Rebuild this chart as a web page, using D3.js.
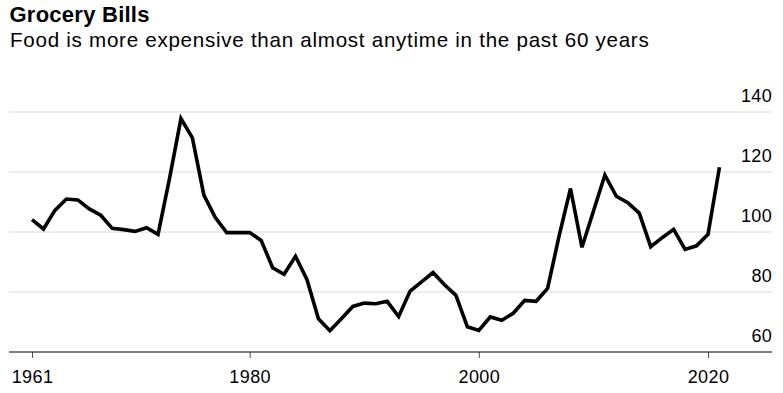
<!DOCTYPE html>
<html>
<head>
<meta charset="utf-8">
<script src="https://cdn.jsdelivr.net/npm/d3@7"></script>
<style>
  html, body { margin: 0; padding: 0; background: #fff; }
  svg { display: block; font-family: "Liberation Sans", Arial, Helvetica, sans-serif; }
</style>
</head>
<body>
<svg id="chart" width="783" height="393"></svg>
<script>
const title = "Grocery Bills";
const subtitle = "Food is more expensive than almost anytime in the past 60 years";

const years = d3.range(1961, 2022);
const values = [
  104.1, 101.0, 107.2, 111.0, 110.7, 107.7, 105.6, 101.2, 100.8, 100.2,
  101.4, 99.2, 117.8, 137.8, 131.4, 112.3, 104.8, 99.8, 99.8, 99.8,
  97.2, 88.1, 85.9, 91.9, 84.1, 71.1, 67.1, 71.1, 75.2, 76.3,
  76.1, 76.9, 71.8, 80.3, 83.4, 86.5, 82.4, 78.9, 68.4, 67.2,
  71.7, 70.6, 72.9, 77.2, 76.9, 81.2, 98.6, 114.5, 94.9, 106.9,
  119.0, 111.9, 109.8, 106.3, 95.1, 98.1, 100.9, 94.2, 95.4, 99.2,
  121.6
];
const yTicks = [60, 80, 100, 120, 140];
const xTicks = [1961, 1980, 2000, 2020];

const svg = d3.select("#chart");

const x = d3.scaleLinear().domain([1961, 2020]).range([32, 708]);
const y = d3.scaleLinear().domain([60, 140]).range([352, 112]);
const left = 9, right = 772;

svg.append("text")
  .attr("x", 9.5).attr("y", 22)
  .attr("font-size", 22).attr("font-weight", "bold")
  .attr("letter-spacing", 0.25)
  .attr("fill", "#000")
  .text(title);

svg.append("text")
  .attr("x", 10).attr("y", 47)
  .attr("font-size", 20.6)
  .attr("letter-spacing", 0.72)
  .attr("fill", "#000")
  .text(subtitle);

// gridlines
const grid = svg.append("g");
grid.selectAll("line")
  .data(yTicks.filter(t => t > 60))
  .join("line")
  .attr("x1", left).attr("x2", right)
  .attr("y1", d => y(d)).attr("y2", d => y(d))
  .attr("stroke", "#dcdcdc").attr("stroke-width", 1.2);

// y labels (right, above gridlines)
svg.append("g").selectAll("text")
  .data(yTicks)
  .join("text")
  .attr("x", right).attr("y", d => y(d) - 10.5)
  .attr("text-anchor", "end")
  .attr("font-size", 18)
  .attr("letter-spacing", 0.3)
  .attr("fill", "#000")
  .text(d => d);

// x axis
const xAxis = svg.append("g")
  .attr("transform", `translate(0,${y(60)})`)
  .call(d3.axisBottom(x).tickValues(xTicks).tickFormat(d3.format("d")).tickSize(6).tickPadding(12.5));
xAxis.select(".domain").remove();
xAxis.selectAll(".tick line").attr("stroke", "#555").attr("stroke-width", 1);
xAxis.selectAll(".tick text")
  .attr("font-size", 18)
  .attr("letter-spacing", 0.4)
  .attr("font-family", "Liberation Sans, Arial, sans-serif")
  .attr("fill", "#000");

svg.append("line")
  .attr("x1", left).attr("x2", right)
  .attr("y1", y(60)).attr("y2", y(60))
  .attr("stroke", "#000").attr("stroke-width", 1.2);

// line
const line = d3.line()
  .x((d, i) => x(years[i]))
  .y(d => y(d));

svg.append("path")
  .datum(values)
  .attr("d", line)
  .attr("fill", "none")
  .attr("stroke", "#000")
  .attr("stroke-width", 3.6)
  .attr("stroke-linejoin", "miter")
  .attr("stroke-miterlimit", 4);
</script>
</body>
</html>
